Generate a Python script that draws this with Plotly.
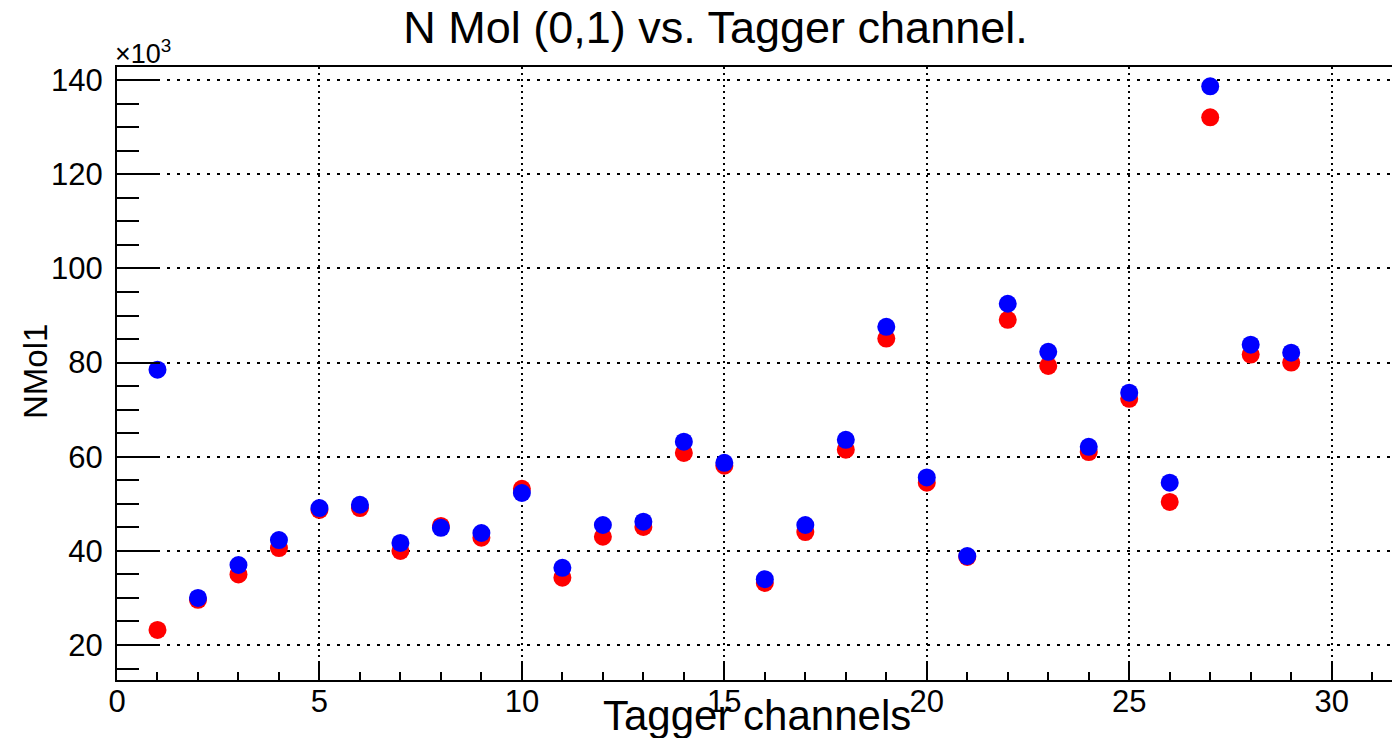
import plotly.graph_objects as go

channels = list(range(1, 30))
blue_counts = [78500, 30000, 37000, 42300, 49100, 49800, 41700, 44900, 43800, 52300,
               36400, 45500, 46200, 63200, 58700, 34000, 45500, 63600, 87600, 55600,
               38900, 92500, 82300, 62100, 73600, 54500, 138700, 83800, 82100]
red_counts = [23200, 29600, 35000, 40600, 48700, 49100, 40000, 45300, 42800, 53200,
              34300, 43000, 45100, 60800, 58100, 33200, 44000, 61500, 85100, 54500,
              38700, 89100, 79300, 61000, 72300, 50400, 132100, 81700, 80000]
y_tick_vals = [20000, 40000, 60000, 80000, 100000, 120000, 140000]
y_tick_text = ["20", "40", "60", "80", "100", "120", "140"]

FONT = "Liberation Sans, Arial, Helvetica, sans-serif"

fig = go.Figure()
fig.add_trace(go.Scatter(x=channels, y=red_counts, mode="markers",
                         marker=dict(color="#ff0000", size=18, line=dict(width=0)),
                         showlegend=False))
fig.add_trace(go.Scatter(x=channels, y=blue_counts, mode="markers",
                         marker=dict(color="#0000ff", size=18, line=dict(width=0)),
                         showlegend=False))

fig.update_layout(
    width=1392, height=738,
    margin=dict(l=117, r=0, t=67, b=58),
    paper_bgcolor="white", plot_bgcolor="white",
    font=dict(family=FONT, color="black"),
    title=dict(text="N Mol (0,1) vs. Tagger channel.", x=0.514, xanchor="center",
               y=0.963, yanchor="middle", font=dict(size=45, family=FONT, color="black")),
)

fig.update_xaxes(
    range=[0, 31.49], showline=True, linecolor="black", linewidth=2, mirror=True,
    tickmode="linear", tick0=0, dtick=5, ticks="inside", ticklen=18, tickwidth=2,
    tickcolor="black", tickfont=dict(size=31, family=FONT), ticklabelstandoff=-7,
    showgrid=True, gridcolor="black", gridwidth=2, griddash="2px,4px",
    zeroline=False,
    minor=dict(dtick=1, tick0=0, ticks="inside", ticklen=8, tickwidth=2, tickcolor="black", showgrid=False),
)
fig.update_yaxes(
    range=[12570, 142800], showline=True, linecolor="black", linewidth=2, mirror=False,
    tickmode="array", tickvals=y_tick_vals, ticktext=y_tick_text,
    ticks="inside", ticklen=43, tickwidth=2, tickcolor="black",
    tickfont=dict(size=31, family=FONT), ticklabelstandoff=6,
    showgrid=True, gridcolor="black", gridwidth=2, griddash="3px,7px",
    zeroline=False,
    minor=dict(tickmode="linear", tick0=0, dtick=5000, ticks="inside", ticklen=22,
               tickwidth=2, tickcolor="black", showgrid=False),
)

fig.add_annotation(text="Tagger channels", xref="paper", yref="paper",
                   x=(757 - 117) / 1275, y=-58 / 613, xanchor="center", yanchor="bottom",
                   yshift=-3,
                   showarrow=False, font=dict(size=42, family=FONT, color="black"))
fig.add_annotation(text="NMol1", xref="paper", yref="paper", textangle=-90,
                   x=(35 - 117) / 1275, y=(680 - 372) / 613, xanchor="center", yanchor="middle",
                   showarrow=False, font=dict(size=33, family=FONT, color="black"))
fig.add_annotation(text="×10<sup>3</sup>", xref="paper", yref="paper",
                   x=(113 - 117) / 1275, y=(680 - 52) / 613, xanchor="left", yanchor="middle",
                   showarrow=False, font=dict(size=27, family=FONT, color="black"))

fig.write_html("out.html")
